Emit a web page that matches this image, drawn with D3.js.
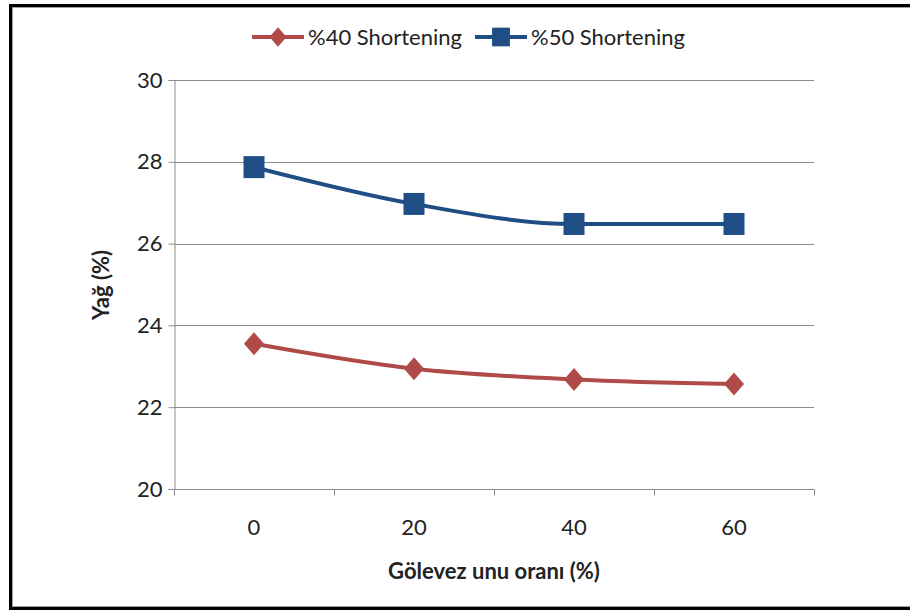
<!DOCTYPE html>
<html>
<head>
<meta charset="utf-8">
<script src="https://cdn.jsdelivr.net/npm/d3@7"></script>
<style>
  body { margin: 0; background: #fff; }
  text { font-family: Lato, "Open Sans", sans-serif; fill: #222; }
</style>
</head>
<body>
<svg id="chart" width="910" height="610"></svg>
<script>
// Chart data
const categories = ["0", "20", "40", "60"];
const seriesNames = ["%40 Shortening", "%50 Shortening"];
const short40 = [23.55, 22.94, 22.68, 22.57];
const short50 = [27.87, 26.97, 26.48, 26.48];
const yTicks = [20, 22, 24, 26, 28, 30];

const svg = d3.select("#chart");

// frame around the chart
svg.append("rect").attr("x", 10.5).attr("y", 5.5).attr("width", 920).attr("height", 603)
  .attr("fill", "none").attr("stroke", "#000").attr("stroke-width", 3);
svg.append("rect").attr("x", 12.5).attr("y", 7.5).attr("width", 920).attr("height", 599)
  .attr("fill", "none").attr("stroke", "#a0a0a0").attr("stroke-width", 1);

const margin = { top: 80, left: 174, right: 814, bottom: 489 };

const x = d3.scaleBand().domain(categories).range([margin.left, margin.right]);
const y = d3.scaleLinear().domain([20, 30]).range([margin.bottom, margin.top]);

// gridlines
svg.append("g").selectAll("line").data(yTicks.slice(1)).join("line")
  .attr("x1", margin.left).attr("x2", margin.right)
  .attr("y1", d => Math.round(y(d)) + 0.5).attr("y2", d => Math.round(y(d)) + 0.5)
  .attr("stroke", "#8c8c8c").attr("stroke-width", 1);

// y axis
const yAxis = svg.append("g").attr("transform", `translate(${margin.left + 0.5},0)`)
  .call(d3.axisLeft(y).tickValues(yTicks).tickSize(6).tickPadding(6));
yAxis.select(".domain").attr("stroke", "#8c8c8c");
yAxis.selectAll(".tick line").attr("stroke", "#8c8c8c");
yAxis.selectAll(".tick text").attr("font-size", 22).attr("fill", "#222")
  .attr("font-family", "Lato, sans-serif");

// x axis (ticks between categories)
const xAxisG = svg.append("g").attr("transform", `translate(0,${margin.bottom + 0.5})`);
xAxisG.append("line").attr("x1", margin.left).attr("x2", margin.right)
  .attr("stroke", "#8c8c8c");
const boundaries = categories.map(c => x(c)).concat([x(categories[categories.length - 1]) + x.bandwidth()]);
xAxisG.selectAll(".bt").data(boundaries).join("line").attr("class", "bt")
  .attr("x1", d => Math.round(d) + 0.5).attr("x2", d => Math.round(d) + 0.5)
  .attr("y1", 0).attr("y2", 6).attr("stroke", "#8c8c8c");
xAxisG.selectAll("text").data(categories).join("text")
  .attr("x", d => x(d) + x.bandwidth() / 2).attr("y", 45)
  .attr("text-anchor", "middle").attr("font-size", 22).text(d => d);

// axis titles
svg.append("text").attr("x", 494).attr("y", 579).attr("text-anchor", "middle")
  .attr("font-size", 22).attr("font-weight", "bold").text("Gölevez unu oranı (%)");
svg.append("text").attr("transform", "translate(109,285) rotate(-90)")
  .attr("text-anchor", "middle").attr("font-size", 22).attr("font-weight", "bold").text("Yağ (%)");

// marker shapes (Excel style: near-square diamond and square)
const diamond = {
  draw(ctx, size) {
    const w = 10, h = 11.5;
    ctx.moveTo(0, -h); ctx.lineTo(w, 0); ctx.lineTo(0, h); ctx.lineTo(-w, 0); ctx.closePath();
  }
};
const square = {
  draw(ctx, size) {
    const w = 10.5, h = 11;
    ctx.moveTo(-w, -h); ctx.lineTo(w, -h); ctx.lineTo(w, h); ctx.lineTo(-w, h); ctx.closePath();
  }
};

// series
const series = [
  { name: seriesNames[0], values: short40, color: "#b04a48", shape: diamond },
  { name: seriesNames[1], values: short50, color: "#1f4e85", shape: square }
];

const line = d3.line()
  .x((d, i) => x(categories[i]) + x.bandwidth() / 2)
  .y(d => y(d))
  .curve(d3.curveMonotoneX);

series.forEach(s => {
  svg.append("path").datum(s.values).attr("d", line)
    .attr("fill", "none").attr("stroke", s.color).attr("stroke-width", 4);
  svg.append("g").selectAll("path").data(s.values).join("path")
    .attr("transform", (d, i) => `translate(${x(categories[i]) + x.bandwidth() / 2},${y(d)})`)
    .attr("d", d3.symbol().type(s.shape))
    .attr("fill", s.color);
});

// legend
const legendPos = [252, 475];
series.forEach((s, i) => {
  const g = svg.append("g").attr("transform", `translate(${legendPos[i]},37)`);
  g.append("line").attr("x1", 0).attr("x2", 52).attr("stroke", s.color).attr("stroke-width", 4);
  g.append("path").attr("transform", "translate(26,0) scale(0.85)")
    .attr("d", d3.symbol().type(s.shape)).attr("fill", s.color);
  g.append("text").attr("x", 56).attr("y", 8).attr("font-size", 22).text(s.name);
});
</script>
</body>
</html>
